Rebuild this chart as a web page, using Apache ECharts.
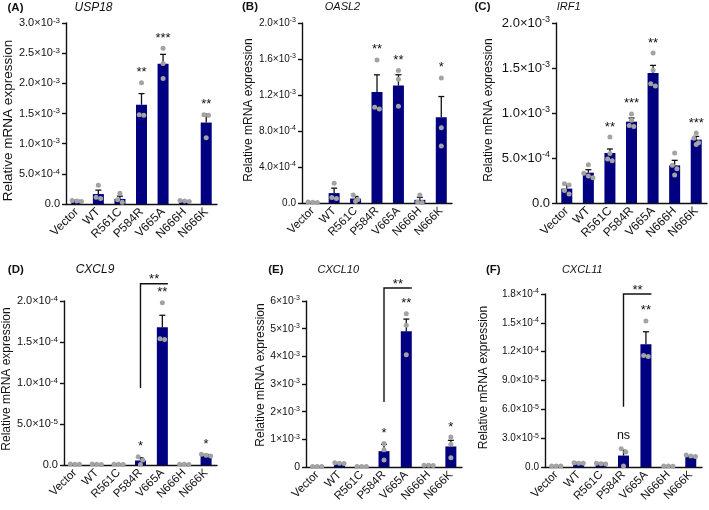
<!DOCTYPE html>
<html><head><meta charset="utf-8">
<script src="https://cdn.jsdelivr.net/npm/echarts@6/dist/echarts.min.js"></script>
<style>html,body{margin:0;padding:0;background:#fff}#c{width:709px;height:510px}</style>
</head><body><div id="c"></div>
<script>
const categories = ['Vector', 'WT', 'R561C', 'P584R', 'V665A', 'N666H', 'N666K'];

// (A) USP18, values in units of 1e-3
const usp18Mean = [0.05, 0.165, 0.085, 1.645, 2.325, 0.045, 1.35];
const usp18Sem = [0.01, 0.065, 0.045, 0.185, 0.155, 0.01, 0.14];
const usp18Points = [[0.04, 0.06, 0.05], [0.11, 0.31, 0.09], [0.03, 0.18, 0.07], [1.48, 2.01, 1.47], [2.33, 2.58, 2.08], [0.04, 0.06, 0.05], [1.48, 1.47, 1.10]];
const usp18Stars = ['', '', '', '**', '***', '', '**'];
const usp18Ticks = [['0.0', ''], ['5.0×10', '-4'], ['1.0×10', '-3'], ['1.5×10', '-3'], ['2.0×10', '-3'], ['2.5×10', '-3'], ['3.0×10', '-3']];

// (B) OASL2, units of 1e-3
const oasl2Mean = [0.008, 0.11, 0.05, 1.234, 1.305, 0.035, 0.953];
const oasl2Sem = [0.002, 0.055, 0.022, 0.19, 0.12, 0.028, 0.23];
const oasl2Points = [[0.008, 0.01, 0.006], [0.22, 0.06, 0.05], [0.09, 0.04, 0.02], [1.59, 1.045, 1.063], [1.472, 1.375, 1.074], [0.09, 0.01, 0.005], [1.39, 0.836, 0.632]];
const oasl2Stars = ['', '', '', '**', '**', '', '*'];
const oasl2Ticks = [['0.0', ''], ['4.0×10', '-4'], ['8.0×10', '-4'], ['1.2×10', '-3'], ['1.6×10', '-3'], ['2.0×10', '-3']];

// (C) IRF1, units of 1e-3
const irf1Mean = [0.16, 0.337, 0.556, 0.904, 1.444, 0.418, 0.704];
const irf1Sem = [0.036, 0.033, 0.044, 0.04, 0.085, 0.056, 0.036];
const irf1Points = [[0.215, 0.20, 0.14, 0.10], [0.426, 0.33, 0.30, 0.28], [0.733, 0.55, 0.49, 0.47], [0.99, 0.92, 0.86, 0.85], [1.667, 1.474, 1.326, 1.30], [0.556, 0.42, 0.38, 0.31], [0.778, 0.72, 0.67, 0.65]];
const irf1Stars = ['', '', '**', '***', '**', '', '***'];
const irf1Ticks = [['0.0', ''], ['5.0×10', '-4'], ['1.0×10', '-3'], ['1.5×10', '-3'], ['2.0×10', '-3']];

// (D) CXCL9, units of 1e-4
const cxcl9Mean = [0.008, 0.008, 0.007, 0.055, 1.68, 0.007, 0.115];
const cxcl9Sem = [0.002, 0.002, 0.002, 0.035, 0.146, 0.002, 0.012];
const cxcl9Points = [[0.012, 0.01, 0.008], [0.012, 0.01, 0.006], [0.01, 0.008, 0.006], [0.10, 0.06, 0.005], [1.98, 1.54, 1.53], [0.01, 0.008, 0.006], [0.13, 0.11, 0.12]];
const cxcl9Stars = ['', '', '', '*', '**', '', '*'];
const cxcl9Ticks = [['0.0', ''], ['5.0×10', '-5'], ['1.0×10', '-4'], ['1.5×10', '-4'], ['2.0×10', '-4']];
const cxcl9Bracket = [3, 4, 2.21, 0.94, '**'];

// (E) CXCL10, units of 1e-3
const cxcl10Mean = [0.02, 0.13, 0.02, 0.573, 4.907, 0.055, 0.743];
const cxcl10Sem = [0.003, 0.01, 0.003, 0.25, 0.44, 0.01, 0.22];
const cxcl10Points = [[0.02, 0.02, 0.02], [0.14, 0.13, 0.15], [0.02, 0.02, 0.02], [0.85, 0.62, 0.25], [5.54, 5.12, 4.06], [0.06, 0.05, 0.06], [1.08, 0.82, 0.33]];
const cxcl10Stars = ['', '', '', '*', '**', '', '*'];
const cxcl10Ticks = [['0', ''], ['1×10', '-3'], ['2×10', '-3'], ['3×10', '-3'], ['4×10', '-3'], ['5×10', '-3'], ['6×10', '-3']];
const cxcl10Bracket = [3, 4, 6.47, 2.35, '**'];

// (F) CXCL11, units of 1e-4
const cxcl11Mean = [0.008, 0.042, 0.035, 0.119, 1.277, 0.008, 0.105];
const cxcl11Sem = [0.002, 0.004, 0.004, 0.055, 0.13, 0.002, 0.006];
const cxcl11Points = [[0.01, 0.01, 0.01], [0.045, 0.04, 0.04], [0.04, 0.035, 0.03], [0.19, 0.157, 0.01], [1.52, 1.16, 1.15], [0.01, 0.008, 0.01], [0.115, 0.125, 0.11]];
const cxcl11Stars = ['', '', '', 'ns', '**', '', ''];
const cxcl11Ticks = [['0.0', ''], ['3.0×10', '-5'], ['6.0×10', '-5'], ['9.0×10', '-5'], ['1.2×10', '-4'], ['1.5×10', '-4'], ['1.8×10', '-4']];
const cxcl11Bracket = [3, 4, 1.8, 0.627, '**'];

const FONT = '"Liberation Sans", Arial, sans-serif';
const INK = '#111';
const BAR = '#000080';
const DOT = '#a3a3a3';

const panels = [
  {letter: '(A)', gene: 'USP18', mean: usp18Mean, sem: usp18Sem, pts: usp18Points, stars: usp18Stars, ticks: usp18Ticks, max: 3, interval: 0.5, bracket: null,
   grid: [66, 23, 151, 181], tickFont: 11, nameFont: 13.5, nameGap: 51, namePad: [0, 14, 0, 0], xFont: 12, genePos: [93.5, 8], geneFont: 12, letterPos: [15.5, 8]},
  {letter: '(B)', gene: 'OASL2', mean: oasl2Mean, sem: oasl2Sem, pts: oasl2Points, stars: oasl2Stars, ticks: oasl2Ticks, max: 2, interval: 0.4, bracket: null,
   grid: [302, 23, 150, 180], tickFont: 10, nameFont: 12, nameGap: 47, namePad: [0, 0, 0, 6], xFont: 11.5, genePos: [342.5, 7], geneFont: 11, letterPos: [250, 7]},
  {letter: '(C)', gene: 'IRF1', mean: irf1Mean, sem: irf1Sem, pts: irf1Points, stars: irf1Stars, ticks: irf1Ticks, max: 2, interval: 0.5, bracket: null,
   grid: [556, 23, 151, 180], tickFont: 13, nameFont: 12, nameGap: 61, namePad: [0, 0, 0, 6], xFont: 12, genePos: [568.7, 7], geneFont: 11, letterPos: [482.5, 7]},
  {letter: '(D)', gene: 'CXCL9', mean: cxcl9Mean, sem: cxcl9Sem, pts: cxcl9Points, stars: cxcl9Stars, ticks: cxcl9Ticks, max: 2, interval: 0.5, bracket: cxcl9Bracket,
   grid: [63, 301, 154, 164], tickFont: 11, nameFont: 12, nameGap: 48, namePad: [0, 0, 0, 8], xFont: 11.5, genePos: [95, 270], geneFont: 12, letterPos: [15.8, 270]},
  {letter: '(E)', gene: 'CXCL10', mean: cxcl10Mean, sem: cxcl10Sem, pts: cxcl10Points, stars: cxcl10Stars, ticks: cxcl10Ticks, max: 6, interval: 1, bracket: cxcl10Bracket,
   grid: [306, 301, 156, 166], tickFont: 10.5, nameFont: 12, nameGap: 39, namePad: [0, 0, 0, 18], xFont: 11.5, genePos: [338.3, 270], geneFont: 11, letterPos: [275.8, 270]},
  {letter: '(F)', gene: 'CXCL11', mean: cxcl11Mean, sem: cxcl11Sem, pts: cxcl11Points, stars: cxcl11Stars, ticks: cxcl11Ticks, max: 1.8, interval: 0.3, bracket: cxcl11Bracket,
   grid: [545, 294, 157, 173], tickFont: 10, nameFont: 12, nameGap: 55, namePad: [0, 0, 0, 6], xFont: 11.5, genePos: [582.3, 270], geneFont: 11, letterPos: [493.3, 270]}
];

const BAR_W = 11;
const option = {animation: false, backgroundColor: '#fff', grid: [], xAxis: [], yAxis: [], series: [], graphic: []};

panels.forEach((p, i) => {
  option.grid.push({left: p.grid[0], top: p.grid[1], width: p.grid[2], height: p.grid[3]});
  option.xAxis.push({
    type: 'category', gridIndex: i, data: categories,
    axisLine: {lineStyle: {color: INK, width: 1.4}}, axisTick: {show: false},
    axisLabel: {rotate: 45, interval: 0, margin: 6, fontSize: p.xFont, color: INK, fontFamily: FONT}
  });
  const fs = p.tickFont;
  option.yAxis.push({
    type: 'value', gridIndex: i, min: 0, max: p.max, interval: p.interval,
    axisLine: {show: true, lineStyle: {color: INK, width: 1.4}},
    axisTick: {show: true, length: 4, lineStyle: {color: INK, width: 1.4}},
    splitLine: {show: false},
    axisLabel: {
      margin: 6, color: INK, fontFamily: FONT, fontSize: fs,
      formatter: (v) => {
        const t = p.ticks[Math.round(v / p.interval)];
        if (!t) return '';
        return t[1] ? '{b|' + t[0] + '}{s|' + t[1] + '}' : '{b|' + t[0] + '}';
      },
      rich: {
        b: {fontSize: fs, fontFamily: FONT, color: INK, lineHeight: fs + 2, padding: [3, 0, 3, 0], verticalAlign: 'middle'},
        s: {fontSize: Math.round(fs * 0.7), fontFamily: FONT, color: INK, lineHeight: Math.round(fs * 0.7) + 2, verticalAlign: 'top'}
      }
    },
    name: 'Relative mRNA expression', nameLocation: 'middle', nameGap: p.nameGap,
    nameTextStyle: {fontSize: p.nameFont, color: INK, fontFamily: FONT, padding: p.namePad}
  });

  // bars
  option.series.push({type: 'bar', xAxisIndex: i, yAxisIndex: i, data: p.mean, barWidth: BAR_W, itemStyle: {color: BAR}, z: 2});

  // error bars (mean + SEM)
  option.series.push({
    type: 'custom', xAxisIndex: i, yAxisIndex: i, z: 3,
    encode: {x: 0, y: [1, 2]},
    data: p.mean.map((m, k) => [k, m, m + p.sem[k]]),
    renderItem: (params, api) => {
      const a = api.coord([api.value(0), api.value(1)]);
      const b = api.coord([api.value(0), api.value(2)]);
      const cw = 3;
      return {type: 'group', children: [
        {type: 'line', shape: {x1: a[0], y1: a[1], x2: b[0], y2: b[1]}, style: {stroke: INK, lineWidth: 1.3}},
        {type: 'line', shape: {x1: b[0] - cw, y1: b[1], x2: b[0] + cw, y2: b[1]}, style: {stroke: INK, lineWidth: 1.3}}
      ]};
    }
  });

  // individual points (simple beeswarm layout)
  const nPts = p.pts[0].length;
  const yDims = [];
  for (let j = 1; j <= nPts; j++) yDims.push(j);
  option.series.push({
    type: 'custom', xAxisIndex: i, yAxisIndex: i, z: 4,
    encode: {x: 0, y: yDims},
    data: p.pts.map((arr, k) => [k].concat(arr)),
    renderItem: (params, api) => {
      const cat = api.value(0);
      const list = [];
      for (let j = 1; j <= nPts; j++) list.push(api.coord([cat, api.value(j)]));
      list.sort((u, v) => u[1] - v[1]);
      const r = 2.5, d = 4.6, s = 4.6;
      const rows = [];
      list.forEach(pt => {
        const last = rows[rows.length - 1];
        if (last && pt[1] - last[0][1] < d) last.push(pt); else rows.push([pt]);
      });
      const children = [];
      rows.forEach(row => {
        row.forEach((pt, k) => {
          const off = (k - (row.length - 1) / 2) * s;
          children.push({type: 'circle', shape: {cx: pt[0] + off, cy: pt[1], r: r}, style: {fill: DOT}});
        });
      });
      return {type: 'group', children: children};
    }
  });

  // significance labels above each group
  const starData = [];
  p.stars.forEach((lab, k) => {
    if (!lab) return;
    const top = Math.max(p.mean[k] + p.sem[k], Math.max.apply(null, p.pts[k]));
    starData.push([k, top, starData.length]);
  });
  const starLabels = p.stars.filter(l => l);
  option.series.push({
    type: 'custom', xAxisIndex: i, yAxisIndex: i, z: 5,
    encode: {x: 0, y: 1},
    data: starData,
    renderItem: (params, api) => {
      const c = api.coord([api.value(0), api.value(1)]);
      const lab = starLabels[params.dataIndex];
      const isNs = lab === 'ns';
      return {type: 'text', x: c[0], y: c[1] - (isNs ? 13 : 10),
        style: {text: lab, font: (isNs ? '12.5px ' : '13px ') + FONT, fill: INK, align: 'center', verticalAlign: 'middle'}};
    }
  });

  // comparison bracket
  if (p.bracket) {
    const br = p.bracket;
    option.series.push({
      type: 'custom', xAxisIndex: i, yAxisIndex: i, z: 5,
      encode: {x: [0, 1], y: [2, 3]},
      data: [[br[0], br[1], br[2], br[3]]],
      renderItem: (params, api) => {
        const a = api.coord([api.value(0), api.value(2)]);
        const b = api.coord([api.value(1), api.value(2)]);
        const l = api.coord([api.value(0), api.value(3)]);
        const xr = b[0] + BAR_W / 2;
        return {type: 'group', children: [
          {type: 'polyline', shape: {points: [[a[0], l[1]], [a[0], a[1]], [xr, a[1]]]}, style: {stroke: INK, lineWidth: 1.4, fill: null}},
          {type: 'text', x: (a[0] + xr) / 2, y: a[1] - 4, style: {text: br[4], font: '13px ' + FONT, fill: INK, align: 'center', verticalAlign: 'middle'}}
        ]};
      }
    });
  }

  option.graphic.push({type: 'text', x: p.letterPos[0], y: p.letterPos[1],
    style: {text: p.letter, font: 'bold 11.5px ' + FONT, fill: INK, align: 'center', verticalAlign: 'middle'}});
  option.graphic.push({type: 'text', x: p.genePos[0], y: p.genePos[1],
    style: {text: p.gene, font: 'italic ' + p.geneFont + 'px ' + FONT, fill: INK, align: 'center', verticalAlign: 'middle'}});
});

const chart = echarts.init(document.getElementById('c'), null, {renderer: 'canvas'});
chart.setOption(option);
</script>
</body></html>
